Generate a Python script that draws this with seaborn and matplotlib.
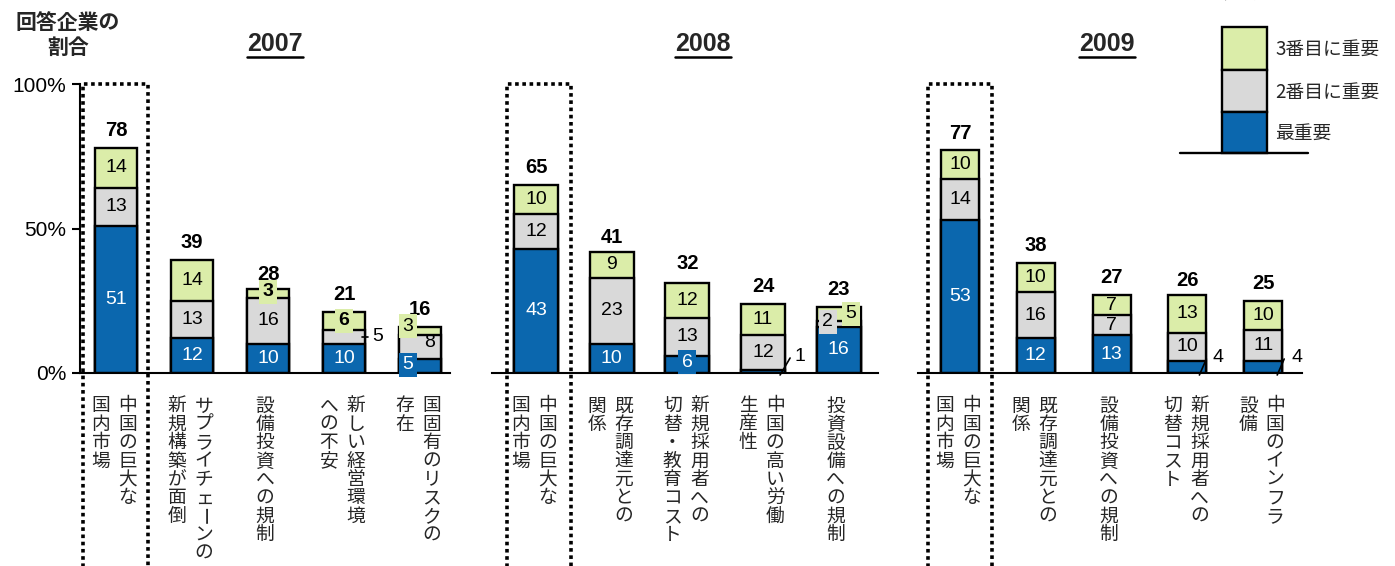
import matplotlib
matplotlib.use("Agg")
import matplotlib.pyplot as plt
import seaborn as sns
import pandas as pd
from matplotlib.patches import Rectangle
from matplotlib.lines import Line2D

# ---------------- data ----------------
years = ["2007", "2008", "2009"]

cats07 = ["中国の巨大な\n国内市場", "サプライチェーンの\n新規構築が面倒", "設備投資への規制",
          "新しい経営環境\nへの不安", "国固有のリスクの\n存在"]
most07 = [51, 12, 10, 10, 5]
second07 = [13, 13, 16, 5, 8]
third07 = [14, 14, 3, 6, 3]
total07 = [78, 39, 28, 21, 16]

cats08 = ["中国の巨大な\n国内市場", "既存調達元との\n関係", "新規採用者への\n切替・教育コスト",
          "中国の高い労働\n生産性", "投資設備への規制"]
most08 = [43, 10, 6, 1, 16]
second08 = [12, 23, 13, 12, 2]
third08 = [10, 9, 12, 11, 5]
total08 = [65, 41, 32, 24, 23]

cats09 = ["中国の巨大な\n国内市場", "既存調達元との\n関係", "設備投資への規制",
          "新規採用者への\n切替コスト", "中国のインフラ\n設備"]
most09 = [53, 12, 13, 4, 4]
second09 = [14, 16, 7, 10, 11]
third09 = [10, 10, 7, 13, 10]
total09 = [77, 38, 27, 26, 25]

yticks = [0, 50, 100]
ytick_labels = ["0%", "50%", "100%"]
legend_labels = ["3番目に重要", "2番目に重要", "最重要"]
ylabel_text = "回答企業の\n割合"

# ---------------- style ----------------
sns.set_style("white")
plt.rcParams["font.family"] = ["Liberation Sans", "Noto Sans CJK JP", "DejaVu Sans"]
JP = ["Noto Sans CJK JP", "DejaVu Sans"]

BLUE = "#0B67AE"
GRAY = "#D9D9D9"
GREEN = "#DBEDA9"

W, H = 1395, 566
fig = plt.figure(figsize=(W / 100, H / 100), dpi=100)


def fx(px):
    return px / W


def fy(py):
    return 1 - py / H


PT = 0.72  # points per pixel
YPX = 2.89  # pixels per percent

panels = [
    dict(cats=cats07, most=most07, second=second07, third=third07, total=total07,
         left=80, right=450, c0=116, step=76, width=0.55, box=(-0.43, 0.42), title_x=275),
    dict(cats=cats08, most=most08, second=second08, third=third08, total=total08,
         left=492, right=878, c0=536, step=75.7, width=0.58, box=(-0.38, 0.46), title_x=703),
    dict(cats=cats09, most=most09, second=second09, third=third09, total=total09,
         left=918, right=1302, c0=960, step=75.8, width=0.50, box=(-0.42, 0.42), title_x=1107),
]

# special label treatments: (panel, bar, segment) -> options (offsets in px)
# leader: two points (dx px from bar centre, dy px above the segment bottom)
special = {
    (0, 2, 2): dict(bold=True, bg=GREEN, dy=-2),
    (0, 3, 2): dict(bold=True, bg=GREEN),
    (0, 3, 1): dict(dx=34, leader=((18, 7), (24, 7))),
    (0, 4, 0): dict(dx=-12, bg=BLUE, dy=-1),
    (0, 4, 1): dict(dx=10, dy=-4),
    (0, 4, 2): dict(dx=-12, dy=-5, bg=GREEN),
    (1, 2, 0): dict(bg=BLUE, dy=-2),
    (1, 3, 0): dict(dx=37, dy=-15, leader=((17, -2), (27, 15))),
    (1, 4, 1): dict(dx=-11, bg=GRAY, dy=-2),
    (1, 4, 2): dict(dx=12, bg=GREEN),
    (2, 3, 0): dict(dx=31, dy=-10, leader=((12, -2), (19, 14))),
    (2, 4, 0): dict(dx=34, dy=-10, leader=((14, -2), (21, 14))),
}

for p, P in enumerate(panels):
    ax = fig.add_axes([fx(P["left"]), fy(373), fx(P["right"]) - fx(P["left"]), (373 - 84) / H])
    ax.set_facecolor("none")
    df = pd.DataFrame({"cat": P["cats"], "most": P["most"], "second": P["second"], "third": P["third"]})
    df["s2"] = df["most"] + df["second"]
    df["s3"] = df["s2"] + df["third"]
    for col, color in [("s3", GREEN), ("s2", GRAY), ("most", BLUE)]:
        sns.barplot(data=df, x="cat", y=col, order=P["cats"], color=color, saturation=1,
                    width=P["width"], edgecolor="black", linewidth=1.7, ax=ax, zorder=2)
    step = P["step"]
    ax.set_xlim((P["left"] - P["c0"]) / step, (P["right"] - P["c0"]) / step)
    ax.set_ylim(0, 100)
    ax.set_xlabel("")
    ax.set_ylabel("")
    ax.set_xticks([])
    for s in ["top", "right"]:
        ax.spines[s].set_visible(False)
    ax.spines["bottom"].set_color("black")
    ax.spines["bottom"].set_linewidth(1.5)
    if p == 0:
        ax.spines["left"].set_color("black")
        ax.spines["left"].set_linewidth(1.5)
        ax.set_yticks(yticks)
        ax.set_yticklabels(ytick_labels)
        ax.tick_params(axis="y", direction="out", length=6, width=1.5, color="black",
                       labelsize=15, labelcolor="black", left=True, pad=4)
    else:
        ax.spines["left"].set_visible(False)
        ax.set_yticks([])

    # dotted highlight box around the first bar
    b0, b1 = P["box"]
    ax.add_line(Line2D([b0, b0, b1, b1], [-90, 100, 100, -90], color="black", lw=2.6,
                       linestyle=(0, (1, 1)), clip_on=False, zorder=5))

    for i in range(len(P["cats"])):
        segs = [P["most"][i], P["second"][i], P["third"][i]]
        bottom = 0
        for k, v in enumerate(segs):
            mid = bottom + v / 2
            opt = special.get((p, i, k), {})
            dx = opt.get("dx", 0)
            dy = opt.get("dy", 0)
            outside = "leader" in opt
            color = "white" if (k == 0 and not outside) else "black"
            bbox = None
            if "bg" in opt:
                bbox = dict(facecolor=opt["bg"], edgecolor="none", pad=2.5)
            ax.annotate(str(v), xy=(i, mid), xytext=(dx * PT, -dy * PT), textcoords="offset points",
                        ha="center", va="center", fontsize=14, color=color,
                        fontweight="bold" if opt.get("bold") else "normal",
                        bbox=bbox, zorder=6, annotation_clip=False)
            if outside:
                (x0, y0), (x1, y1) = opt["leader"]
                ax.add_line(Line2D([i + x0 / step, i + x1 / step],
                                   [bottom + y0 / YPX, bottom + y1 / YPX],
                                   color="black", lw=1.2, clip_on=False, zorder=6))
            bottom += v
        # totals
        ax.annotate(str(P["total"][i]), xy=(i, P["total"][i]), xytext=(0, 12.5), textcoords="offset points",
                    ha="center", va="center", fontsize=14.5, fontweight="bold", color="black",
                    annotation_clip=False)
        # vertical category labels (columns read right to left)
        cols = P["cats"][i].split("\n")
        offs = [-3] if len(cols) == 1 else [12, -15]
        for col, off in zip(cols, offs):
            for n, ch in enumerate(col):
                ax.annotate(ch, xy=(i, fy(406)), xycoords=("data", "figure fraction"),
                            xytext=(off * PT, -n * 18.4 * PT), textcoords="offset points",
                            ha="center", va="center", fontsize=13.5, family=JP,
                            rotation=-90 if ch == "ー" else 0, annotation_clip=False)

# year titles with underline
titles = []
for P, yr in zip(panels, years):
    t = fig.text(fx(P["title_x"]), fy(44), yr, ha="center", va="center", fontsize=18, fontweight="bold")
    titles.append(t)

# y label
fig.text(fx(68), fy(35), ylabel_text, ha="center", va="center", fontsize=15, fontweight="bold",
         family=JP, linespacing=1.2)

# legend (stacked box)
lx0, lx1 = 1222, 1267
legend_rows = [(27, 70, GREEN), (70, 112, GRAY), (112, 153, BLUE)]
for (t0, t1, c), lab in zip(legend_rows, legend_labels):
    fig.add_artist(Rectangle((fx(lx0), fy(t1)), fx(lx1) - fx(lx0), (t1 - t0) / H, transform=fig.transFigure,
                             facecolor=c, edgecolor="black", lw=1.7))
    fig.text(fx(1275), fy((t0 + t1) / 2 + 1), lab, ha="left", va="center", fontsize=13.5, family=JP)
fig.add_artist(Line2D([fx(1180), fx(1308)], [fy(153), fy(153)], transform=fig.transFigure,
                      color="black", lw=1.7))
fig.text(fx(1241), fy(3), "凡例", ha="center", va="bottom", fontsize=13, family=JP)

fig.canvas.draw()
r = fig.canvas.get_renderer()
for t in titles:
    bb = t.get_window_extent(r)
    fig.add_artist(Line2D([bb.x0 / W, bb.x1 / W], [(bb.y0 - 1) / H, (bb.y0 - 1) / H],
                          transform=fig.transFigure, color="black", lw=1.8))

fig.savefig("out.png", dpi=100)
